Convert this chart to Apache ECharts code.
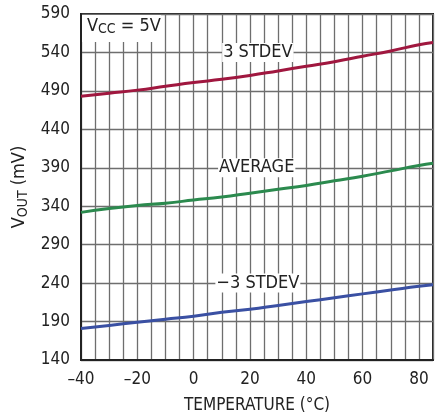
<!DOCTYPE html>
<html>
<head>
<meta charset="utf-8">
<script src="https://cdn.jsdelivr.net/npm/echarts@6/dist/echarts.min.js"></script>
<style>
  html, body { margin: 0; padding: 0; background: #fff; }
  #main { width: 443px; height: 419px; }
</style>
</head>
<body>
<div id="main"></div>
<script>
// temperature points (°C)
var temps = [-40, -30, -20, -10, 0, 10, 20, 30, 40, 50, 60, 70, 80, 85];
// VOUT (mV)
var plus3 = [483, 487, 491, 496, 501, 505, 510, 516, 522, 528, 535, 542, 550, 553];
var average = [332, 337, 341, 344, 348, 352, 357, 362, 367, 373, 379, 386, 393, 396];
var minus3 = [181, 185, 189, 193, 197, 202, 206, 211, 216, 221, 226, 231, 236, 238];
var seriesNames = ['3 STDEV', 'AVERAGE', '\u22123 STDEV'];
var colors = ['#a0173f', '#2b8a4e', '#3a50a3'];

var font = '"DejaVu Sans Condensed", "Roboto Condensed", "Liberation Sans Narrow", "Liberation Sans", sans-serif';

function pairs(ys) {
  return temps.map(function (t, i) { return [t, ys[i]]; });
}

// label spot for each curve (sits on a grid line)
var labelAt = [[22.8, 540], [22.4, 390], [22.8, 240]];

var chart = echarts.init(document.getElementById('main'));

var series = [plus3, average, minus3].map(function (ys, i) {
  return {
    name: seriesNames[i],
    type: 'line',
    data: pairs(ys),
    smooth: true,
    showSymbol: false,
    lineStyle: { color: colors[i], width: 3 },
    z: 3,
    markPoint: {
      symbol: 'rect',
      symbolSize: 1,
      itemStyle: { color: 'rgba(0,0,0,0)' },
      silent: true,
      data: [{
        coord: labelAt[i],
        label: {
          show: true,
          position: 'inside',
          formatter: seriesNames[i],
          color: '#222',
          fontFamily: font,
          fontSize: 18,
          backgroundColor: '#fff',
          padding: [1, 1, 0, 1]
        }
      }]
    }
  };
});

chart.setOption({
  animation: false,
  grid: {
    left: 81, right: 10, top: 14, bottom: 54,
    show: true, borderColor: '#222', borderWidth: 2
  },
  xAxis: {
    type: 'value',
    min: -40, max: 85, interval: 5,
    name: 'TEMPERATURE (\u00b0C)',
    nameLocation: 'middle',
    nameGap: 37,
    nameTextStyle: { fontFamily: font, fontSize: 17, color: '#222' },
    axisLine: { show: true, onZero: false, lineStyle: { color: '#222', width: 2 } },
    axisTick: { show: false },
    axisLabel: {
      fontFamily: font, fontSize: 17, color: '#222', margin: 11,
      formatter: function (v) {
        if (v % 20 !== 0) return '';
        return v < 0 ? '\u2013' + (-v) : String(v);
      }
    },
    splitLine: { show: true, lineStyle: { color: '#6e6e6e', width: 1.3 } }
  },
  yAxis: {
    type: 'value',
    min: 140, max: 590, interval: 50,
    name: 'V{sub|OUT} (mV)',
    nameLocation: 'middle',
    nameGap: 46,
    nameRotate: 90,
    nameTextStyle: {
      fontFamily: font, fontSize: 18, color: '#222',
      rich: {
        sub: { fontFamily: font, fontSize: 14, color: '#222', verticalAlign: 'bottom', padding: [7, 0, 0, 0] }
      }
    },
    axisLine: { show: true, onZero: false, lineStyle: { color: '#222', width: 2 } },
    axisTick: { show: false },
    axisLabel: { fontFamily: font, fontSize: 17, color: '#222', margin: 11 },
    splitLine: { show: true, lineStyle: { color: '#6e6e6e', width: 1.3 } }
  },
  graphic: [
    {
      type: 'rect', z: 100,
      shape: { x: 82, y: 15, width: 79, height: 27 },
      style: { fill: '#fff' }
    },
    {
      type: 'text', z: 101, left: 87, top: 17,
      style: {
        text: 'V{sub|CC} = 5V',
        fontFamily: font, fontSize: 18, fill: '#222',
        rich: {
          sub: { fontFamily: font, fontSize: 14, fill: '#222', verticalAlign: 'bottom', padding: [7, 0, 0, 0] }
        }
      }
    }
  ],
  series: series
});
</script>
</body>
</html>
